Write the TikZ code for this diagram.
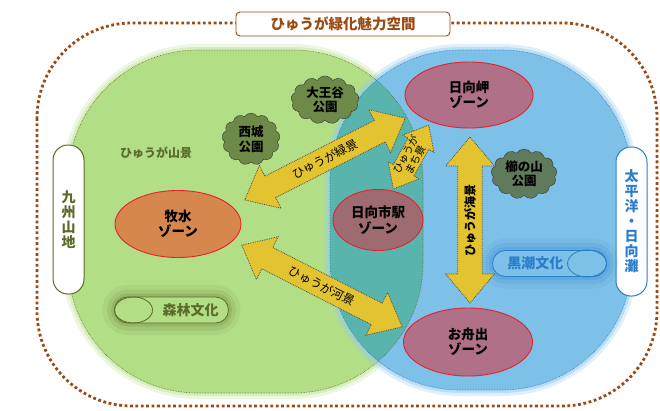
\documentclass[tikz,border=0pt]{standalone}
\usepackage{fontspec}
\setmainfont{Noto Sans CJK JP}
\usetikzlibrary{positioning, shapes.geometric, shapes.symbols, shapes.arrows}
\definecolor{cbrown}{HTML}{9A4A12}
\definecolor{cleaf}{HTML}{B2DE86}
\definecolor{csea}{HTML}{7DC0E8}
\definecolor{cteal}{HTML}{5AB4AE}
\definecolor{colive}{HTML}{5B6B28}
\definecolor{cseablue}{HTML}{2A7DCB}
\definecolor{czonered}{HTML}{E8202A}
\definecolor{corange}{HTML}{D5874E}
\definecolor{cmauve}{HTML}{B07088}
\definecolor{cstation}{HTML}{9E6B70}
\definecolor{cyellow}{HTML}{E4C330}
\definecolor{cpark}{HTML}{6E8A49}
\definecolor{cparksea}{HTML}{5F7B5C}
\tikzset{
  zone/.style={ellipse, draw=czonered, line width=0.9pt, fill=#1, align=center, inner sep=0pt,
    font=\bfseries\fontsize{13.5}{15.5}\selectfont},
  zone/.default=cmauve,
  park/.style={cloud, cloud puffs=13, cloud puff arc=120, cloud ignores aspect, draw=black!80, fill=#1,
    align=center, inner sep=0pt, font=\bfseries\fontsize{12.5}{14.5}\selectfont},
  park/.default=cpark,
  sidepill/.style={draw=#1, line width=1pt, fill=white, rounded corners=15pt, minimum width=31pt,
    minimum height=149pt, align=center, text=#1, font=\bfseries\fontsize{14}{15}\selectfont},
  fatarrow/.style={double arrow, draw=black!70, densely dotted, line width=0.8pt, fill=cyellow,
    inner sep=6pt, double arrow head extend=12pt, double arrow tip angle=80, minimum height=#1,
    font=\fontsize{12}{13}\selectfont},
  culture/.style={draw=#1, line width=0.8pt, rounded corners=13pt, minimum width=114pt, minimum height=26pt,
    preaction={draw=#1, line width=24pt, opacity=.08, rounded corners=13pt},
    preaction={draw=#1, line width=15pt, opacity=.12, rounded corners=13pt},
    preaction={draw=#1, line width=7pt, opacity=.18, rounded corners=13pt}},
}

\begin{document}
\begin{tikzpicture}[x=1pt, y=-1pt]
  \useasboundingbox (0,0) rectangle (660,410);
  % outer frame
  \draw[cbrown, line width=2.8pt, dash pattern=on 2.8pt off 2.6pt, rounded corners=95pt] (37,23) rectangle (657,406);
  % green and blue areas
  \path[fill=cleaf, rounded corners=130pt,
    preaction={draw=cleaf!80!white, line width=12pt, opacity=.3},
    preaction={draw=cleaf!80!white, line width=6pt, opacity=.5}] (68,50) rectangle (423,393);
  \path[fill=csea, rounded corners=130pt,
    preaction={draw=csea!80!white, line width=12pt, opacity=.3},
    preaction={draw=csea!80!white, line width=6pt, opacity=.5}] (330,50) rectangle (632,390);
  \begin{scope}
    \clip[rounded corners=130pt] (68,50) rectangle (423,393);
    \fill[cteal, rounded corners=130pt] (330,50) rectangle (632,390);
  \end{scope}
  \draw[olive!70!black, densely dotted, line width=0.6pt, rounded corners=130pt] (68,50) rectangle (423,393);
  \draw[cseablue, densely dotted, line width=0.6pt, rounded corners=130pt] (330,50) rectangle (632,390);
  % title
  \node[draw=cbrown, line width=0.9pt, fill=white, rounded corners=4pt, minimum width=214pt, minimum height=24pt,
    text=cbrown, font=\bfseries\fontsize{14.5}{16}\selectfont] (title) at (343,24) {ひゅうが緑化魅力空間};
  % side labels
  \node[sidepill=colive] (kyushu) at (68.5,219.5) {九\\州\\山\\地};
  \node[sidepill=cseablue] (taiheiyo) at (631.5,221.5) {太\\平\\洋\\・\\日\\向\\灘};
  \node[text=colive, font=\bfseries\fontsize{12}{13}\selectfont] (sankei) at (156,153) {ひゅうが山景};
  % culture pills
  \node[culture=colive, fill=cleaf] (shinrin) at (171.5,310) {};
  \node[ellipse, draw=colive, line width=0.8pt, minimum width=38pt, minimum height=26pt, inner sep=0pt,
    anchor=west] (shinrinend) at (shinrin.west) {};
  \node[left=10pt of shinrin.east, inner sep=0pt, text=colive, font=\bfseries\fontsize{14}{15}\selectfont] (shinrintext) {森林文化};
  \node[culture=cseablue, fill=csea] (kuroshio) at (549.5,263.5) {};
  \node[ellipse, draw=cseablue, line width=0.8pt, minimum width=39pt, minimum height=27pt, inner sep=0pt,
    anchor=east] (kuroshioend) at (kuroshio.east) {};
  \node[right=15pt of kuroshio.west, inner sep=0pt, text=cseablue, font=\bfseries\fontsize{14}{15}\selectfont] (kuroshiotext) {黒潮文化};
  % zones
  \node[zone=corange, minimum width=126pt, minimum height=67pt] (bokusui) at (178,224) {牧水\\ゾーン};
  \node[zone=cmauve, minimum width=128pt, minimum height=66pt] (misaki) at (469,95) {日向岬\\ゾーン};
  \node[zone=cstation, minimum width=90pt, minimum height=61pt] (station) at (378,220) {日向市駅\\ゾーン};
  \node[zone=cmauve, minimum width=129pt, minimum height=68pt] (funade) at (468,342) {お舟出\\ゾーン};
  % parks
  \node[park, minimum width=68pt, minimum height=48pt] (daioudani) at (325,100) {大王谷\\公園};
  \node[park, minimum width=58pt, minimum height=52pt] (nishishiro) at (251,139) {西城\\公園};
  \node[park=cparksea, minimum width=66pt, minimum height=50pt] (kushinoyama) at (524,174) {櫛の山\\公園};
  % scenery arrows
  \node[fatarrow=180pt, rotate=27] (ryokukei) at (325,159) {ひゅうが緑景};
  \node[fatarrow=180pt, rotate=-27] (kakei) at (322,286) {ひゅうが河景};
  \node[fatarrow=166pt, rotate=90, font=\bfseries\fontsize{12}{13}\selectfont] (kaikei) at (470,220) {ひゅうが海景};
  \node[fatarrow=68pt, rotate=61, align=center, inner sep=1pt, double arrow head extend=6pt,
    font=\fontsize{10.5}{11}\selectfont] (machikei) at (411,157) {ひゅうが\\まち景};
\end{tikzpicture}
\end{document}
